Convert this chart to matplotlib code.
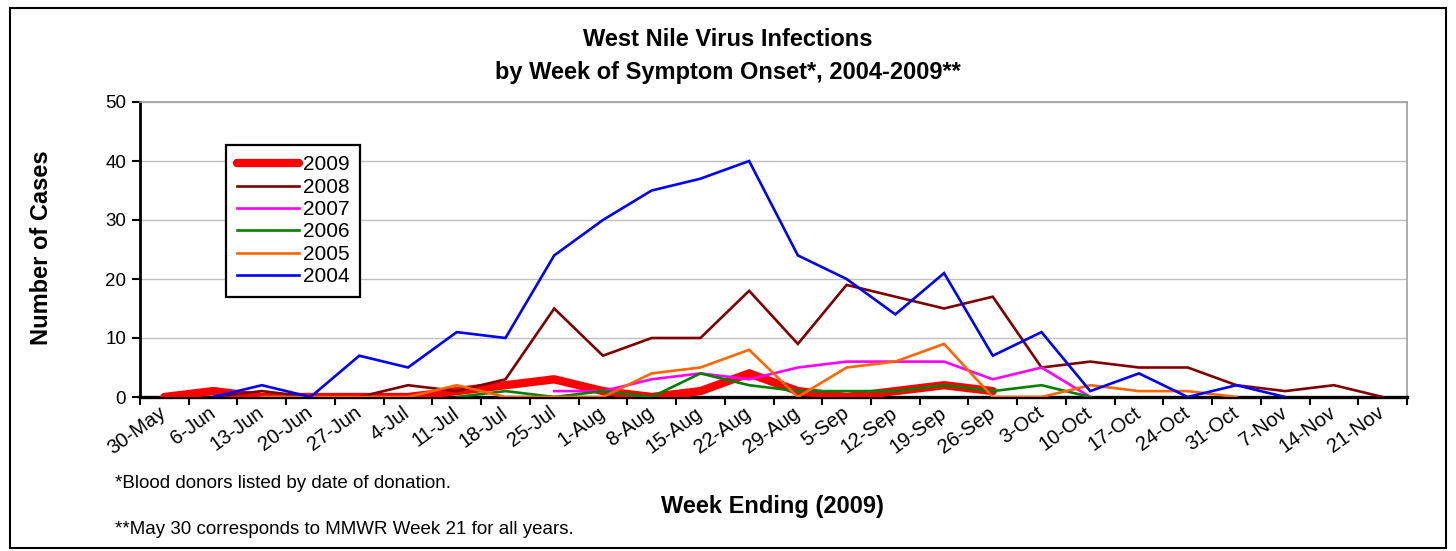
''' West Nile virus infections by week of symptom onset '''

import numpy as np
import matplotlib
matplotlib.use('Agg')
import matplotlib.pyplot as plt
from matplotlib.patches import Rectangle

plt.rcParams['font.family'] = ['Liberation Sans', 'DejaVu Sans']

WEEKS = ['30-May', '6-Jun', '13-Jun', '20-Jun', '27-Jun', '4-Jul', '11-Jul',
         '18-Jul', '25-Jul', '1-Aug', '8-Aug', '15-Aug', '22-Aug', '29-Aug',
         '5-Sep', '12-Sep', '19-Sep', '26-Sep', '3-Oct', '10-Oct', '17-Oct',
         '24-Oct', '31-Oct', '7-Nov', '14-Nov', '21-Nov']

N = None
Y2009 = [0, 1, 0, 0, 0, 0, 1, 2, 3, 1, 0, 1, 4, 1, 0, 1, 2, 1,
         N, N, N, N, N, N, N, N]
Y2008 = [N, 0, 1, 0, 0, 2, 1, 3, 15, 7, 10, 10, 18, 9, 19, 17, 15, 17,
         5, 6, 5, 5, 2, 1, 2, 0]
Y2007 = [N, N, N, N, N, N, N, N, 1, 1, 3, 4, 3, 5, 6, 6, 6, 3,
         5, 0, N, N, N, N, N, N]
Y2006 = [N, N, N, N, N, N, 0, 1, 0, 1, 0, 4, 2, 1, 1, 1, 2, 1,
         2, 0, N, N, N, N, N, N]
Y2005 = [N, N, 0, 0, 0, 0, 2, 0, 0, 0, 4, 5, 8, 0, 5, 6, 9, 0,
         0, 2, 1, 1, 0, N, N, N]
Y2004 = [N, 0, 2, 0, 7, 5, 11, 10, 24, 30, 35, 37, 40, 24, 20, 14, 21, 7,
         11, 1, 4, 0, 2, 0, N, N]

SERIES = [('2009', Y2009, '#FF0000', 6.0),
          ('2008', Y2008, '#800000', 1.9),
          ('2007', Y2007, '#FF00FF', 1.9),
          ('2006', Y2006, '#008000', 1.9),
          ('2005', Y2005, '#FF6600', 1.9),
          ('2004', Y2004, '#0000FF', 1.9)]


def to_arr(vals):
    return np.array([np.nan if v is None else v for v in vals], dtype=float)


def main():
    fig = plt.figure(figsize=(14.56, 5.51), dpi=100)
    ax = fig.add_axes([140 / 1456, 1 - 397 / 551, 1267 / 1456, 295 / 551])
    x = np.arange(len(WEEKS))

    for i, (name, vals, color, lw) in enumerate(SERIES):
        ax.plot(x, to_arr(vals), color=color, linewidth=lw, label=name,
                solid_capstyle='round' if lw > 3 else 'projecting',
                solid_joinstyle='miter', zorder=3 + i)

    ax.set_xlim(-0.5, len(WEEKS) - 0.5)
    ax.set_ylim(0, 50)
    ax.set_yticks(range(0, 51, 10))
    ax.tick_params(axis='y', labelsize=13.5, length=6, width=1.5,
                   direction='out', pad=4)
    ax.yaxis.grid(True, color='#C0C0C0', linewidth=1)
    ax.set_axisbelow(True)

    ax.set_xticks(x)
    ax.set_xticklabels(WEEKS, rotation=36, ha='right', va='center',
                       rotation_mode='anchor', fontsize=14.5)
    ax.tick_params(axis='x', which='major', length=0, pad=10)
    ax.set_xticks(np.arange(len(WEEKS) + 1) - 0.5, minor=True)
    ax.tick_params(axis='x', which='minor', length=6, width=1.5,
                   direction='out')

    for s in ['top', 'right']:
        ax.spines[s].set_color('#A0A0A0')
        ax.spines[s].set_linewidth(1.2)
    ax.spines['left'].set_linewidth(2)
    ax.spines['bottom'].set_linewidth(2.4)

    leg = ax.legend(loc='upper left', bbox_to_anchor=(0.068, 0.854),
                    borderaxespad=0, fontsize=15, handlelength=3.0,
                    handletextpad=0.2, labelspacing=0.16,
                    fancybox=False, framealpha=1, edgecolor='black',
                    borderpad=0.5)
    leg.get_frame().set_linewidth(1.6)

    fig.text(0.5, 1 - 40 / 551, 'West Nile Virus Infections',
             ha='center', va='center', fontsize=17, fontweight='bold')
    fig.text(0.5, 1 - 72 / 551, 'by Week of Symptom Onset*, 2004-2009**',
             ha='center', va='center', fontsize=17, fontweight='bold')
    fig.text(42 / 1456, 1 - 248 / 551, 'Number of Cases', rotation=90,
             ha='center', va='center', fontsize=17, fontweight='bold')
    fig.text(772 / 1456, 1 - 507 / 551, 'Week Ending (2009)',
             ha='center', va='center', fontsize=17, fontweight='bold')
    fig.text(115 / 1456, 1 - 484 / 551,
             '*Blood donors listed by date of donation.',
             ha='left', va='center', fontsize=13.5)
    fig.text(115 / 1456, 1 - 530 / 551,
             '**May 30 corresponds to MMWR Week 21 for all years.',
             ha='left', va='center', fontsize=13.5)

    fig.patches.append(Rectangle((10 / 1456, 3 / 551), 1436 / 1456,
                                 540 / 551, transform=fig.transFigure,
                                 fill=False, edgecolor='black',
                                 linewidth=1.5))
    fig.savefig('out.png', dpi=100)


if __name__ == '__main__':
    main()
